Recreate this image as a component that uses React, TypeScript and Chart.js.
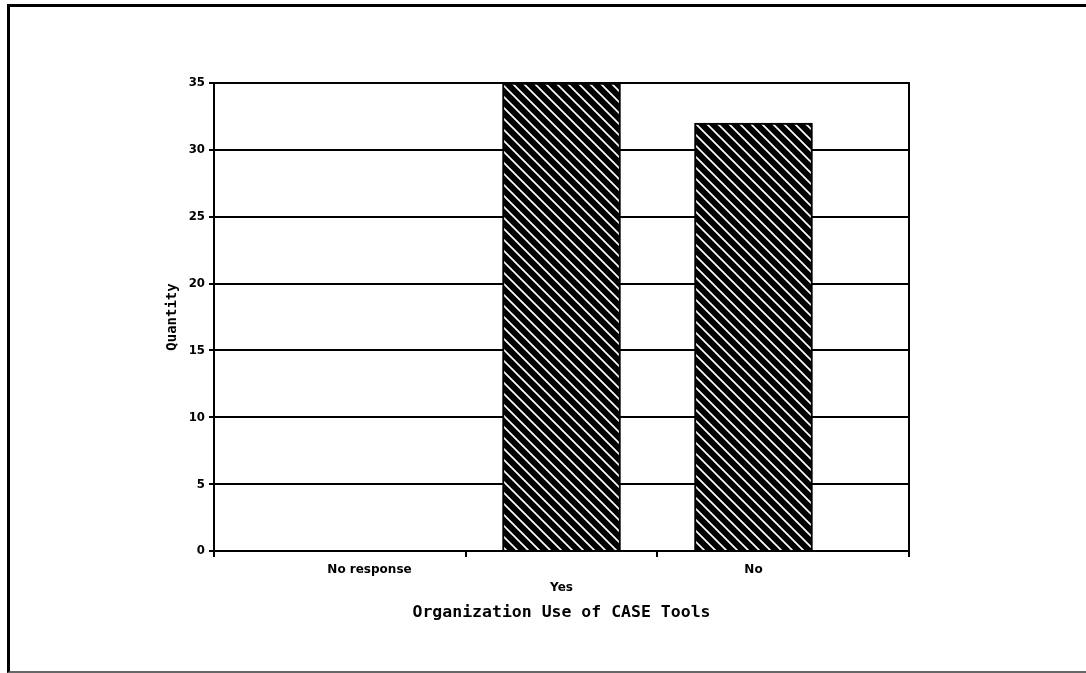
import React, { useEffect, useRef } from "react";
import { Chart, registerables } from "chart.js";

Chart.register(...registerables);

const categories = ["No response", "Yes", "No"];
const quantities = [0, 35, 32];
const yTicks = [0, 5, 10, 15, 20, 25, 30, 35];
const xAxisTitle = "Organization Use of CASE Tools";
const yAxisTitle = "Quantity";

function makeHatch(): CanvasPattern | string {
  const c = document.createElement("canvas");
  const s = 11;
  c.width = s;
  c.height = s;
  const g = c.getContext("2d");
  if (!g) return "#000";
  g.fillStyle = "#000";
  g.fillRect(0, 0, s, s);
  g.strokeStyle = "#fff";
  g.lineWidth = 1.7;
  g.beginPath();
  g.moveTo(-2, -2);
  g.lineTo(s + 2, s + 2);
  g.moveTo(-2, s - 2);
  g.lineTo(2, s + 2);
  g.moveTo(s - 2, -2);
  g.lineTo(s + 2, 2);
  g.stroke();
  return g.createPattern(c, "repeat") || "#000";
}

const framePlugin = {
  id: "plotFrame",
  afterDraw(chart: any) {
    const { ctx, chartArea } = chart;
    ctx.save();
    ctx.strokeStyle = "#000";
    ctx.lineWidth = 2;
    ctx.strokeRect(chartArea.left, chartArea.top, chartArea.right - chartArea.left, chartArea.bottom - chartArea.top);
    ctx.restore();
  },
};

export default function App() {
  const ref = useRef<HTMLCanvasElement | null>(null);

  useEffect(() => {
    if (!ref.current) return;
    const pattern = makeHatch();
    const xMin = -0.81;
    const xMax = 2.81;
    const chart = new Chart(ref.current, {
      type: "bar",
      data: {
        datasets: [
          {
            data: categories.map((c, i) => ({ x: i, y: quantities[i] })) as any,
            backgroundColor: pattern as any,
            borderColor: "#000",
            borderWidth: 2,
            barThickness: 118,
          },
        ],
      },
      options: {
        animation: false,
        responsive: false,
        devicePixelRatio: 1,
        layout: { padding: { left: 0, right: 177, top: 83, bottom: 0 } },
        plugins: {
          legend: { display: false },
          tooltip: { enabled: false },
        },
        scales: {
          x: {
            type: "linear",
            offset: false,
            min: xMin,
            max: xMax,
            afterBuildTicks: (s: any) => {
              s.ticks = [xMin, 0, 0.5, 1, 1.5, 2, xMax].map((v) => ({ value: v }));
            },
            afterFit: (s: any) => {
              s.height = 122;
            },
            grid: {
              offset: false,
              drawOnChartArea: false,
              drawTicks: true,
              tickLength: 6,
              lineWidth: 2,
              tickColor: (ctx: any) =>
                ctx.tick && Number.isInteger(ctx.tick.value) ? "rgba(0,0,0,0)" : "#000",
            },
            border: { color: "#000", width: 2 },
            ticks: {
              autoSkip: false,
              maxRotation: 0,
              minRotation: 0,
              padding: 4,
              color: "#000",
              font: { family: "'DejaVu Sans'", weight: "bold", size: 12, lineHeight: 1.5 },
              callback: (value: any) => {
                const v = Number(value);
                if (!Number.isInteger(v) || v < 0 || v >= categories.length) return "";
                return v % 2 === 1 ? ["", categories[v]] : categories[v];
              },
            },
            title: {
              display: true,
              text: xAxisTitle,
              color: "#000",
              font: { family: "'DejaVu Sans Mono'", weight: "bold", size: 16.5, lineHeight: 1.2 },
              padding: { top: 0, bottom: 50 },
            },
          } as any,
          y: {
            min: 0,
            max: 35,
            z: 1,
            afterBuildTicks: (s: any) => {
              s.ticks = yTicks.map((v) => ({ value: v }));
            },
            afterFit: (s: any) => {
              s.width = 214;
            },
            grid: {
              color: "#000",
              lineWidth: 2,
              drawTicks: true,
              tickLength: 5,
            },
            border: { color: "#000", width: 2 },
            ticks: {
              padding: 4,
              color: "#000",
              font: { family: "'DejaVu Sans Condensed', 'DejaVu Sans'", weight: "bold", size: 13 },
            },
            title: {
              display: true,
              text: yAxisTitle,
              color: "#000",
              font: { family: "'DejaVu Sans Mono'", weight: "bold", size: 14, lineHeight: 1.2 },
              padding: { top: 164, bottom: 0 },
            },
          } as any,
        },
      },
      plugins: [framePlugin],
    });
    return () => chart.destroy();
  }, []);

  return (
    <div style={{ position: "fixed", left: 0, top: 0, width: 1086, height: 673, background: "#fff" }}>
      <div
        style={{
          position: "absolute",
          left: 7,
          top: 4,
          right: 0,
          bottom: 0,
          boxSizing: "border-box",
          borderTop: "3px solid #000",
          borderLeft: "3px solid #000",
          borderBottom: "2px solid #666",
        }}
      />
      <canvas ref={ref} width={1086} height={673} style={{ position: "absolute", left: 0, top: 0 }} />
    </div>
  );
}
